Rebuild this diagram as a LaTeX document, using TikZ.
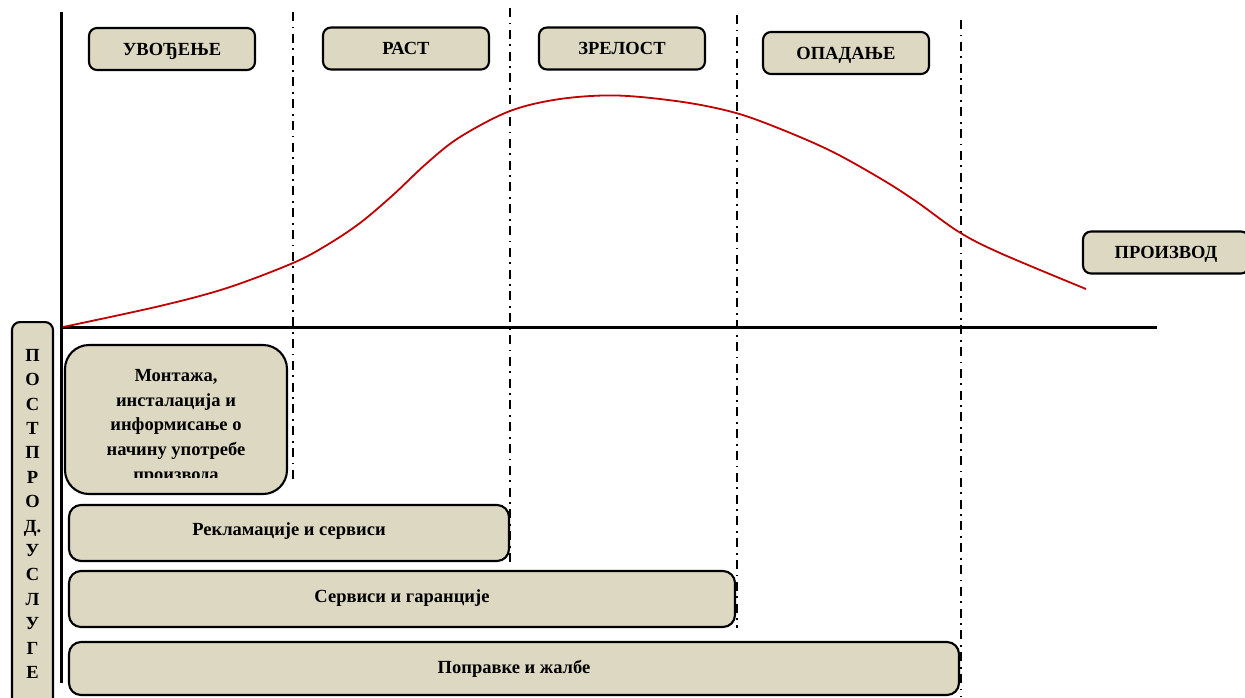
\documentclass[tikz,border=0pt]{standalone}
\usepackage{fontspec}
\setmainfont{Liberation Serif}
\definecolor{boxfill}{HTML}{DDD8C2}
\definecolor{curvered}{HTML}{C00000}
\tikzset{
  stage/.style={draw=black, line width=2.1pt, fill=boxfill, rounded corners=8pt,
    minimum height=42pt, inner sep=0pt, text height=12.2pt, text depth=0pt,
    font=\fontsize{18.5}{20}\selectfont\bfseries},
  service/.style={draw=black, line width=2.1pt, fill=boxfill, rounded corners=12pt,
    inner sep=0pt},
  phaseline/.style={line width=2pt, dash pattern=on 9pt off 5.5pt on 1.8pt off 5.5pt},
  axis/.style={line width=3pt},
  lbl/.style={inner sep=0pt, text height=12.2pt, text depth=0pt,
    font=\fontsize{18.5}{20}\selectfont\bfseries}
}
\begin{document}
\begin{tikzpicture}[x=1pt, y=-1pt]
\useasboundingbox (0,0) rectangle (1245,697);

% phase separators
\coordinate (s1t) at (292.5,12);  \coordinate (s1b) at (292.5,483);
\coordinate (s2t) at (510,8);     \coordinate (s2b) at (510,562);
\coordinate (s3t) at (737,15);    \coordinate (s3b) at (737,628);
\coordinate (s4t) at (961,20);    \coordinate (s4b) at (961,697);
\draw[phaseline] (s1t) -- (s1b);
\draw[phaseline] (s2t) -- (s2b);
\draw[phaseline] (s3t) -- (s3b);
\draw[phaseline] (s4t) -- (s4b);

% axes
\coordinate (origin) at (61,327);
\coordinate (ytop) at (61,12);
\coordinate (ybot) at (61,683);
\coordinate (xend) at (1157,327);
\draw[axis] (ytop) -- (ybot);
\draw[axis] (origin) -- (xend);

% life-cycle curve
\draw[curvered, line width=1.8pt] plot[smooth, tension=0.55] coordinates {
  (63,327) (160,306) (227,288) (293,263) (327,245) (360,223) (393,195)
  (427,163) (460,137) (510,111) (560,99) (617,95.5) (683,102) (736,113)
  (783,130) (833,152) (883,180) (917,202) (959,232) (1000,253) (1086,289)};

% stage labels
\node[stage, minimum width=166pt] (uvod) at (172,49) {УВОЂЕЊЕ};
\node[stage, minimum width=166pt] (rast) at (406,48.5) {РАСТ};
\node[stage, minimum width=166pt] (zrel) at (622,48.5) {ЗРЕЛОСТ};
\node[stage, minimum width=166pt] (opad) at (846,53) {ОПАДАЊЕ};
\node[stage, minimum width=166pt] (proiz) at (1166,252.5) {ПРОИЗВОД};

% post-production services column
\begin{scope}
  \clip (0,0) rectangle (1245,697);
  \node[service, rounded corners=8pt, minimum width=41pt, minimum height=390pt,
        anchor=north] (post) at (32.5,321) {};
\end{scope}
\begin{scope}
  \clip (12,321) rectangle (53,684);
  \node[inner sep=0pt, align=center, anchor=north,
        font=\fontsize{18.5}{24.4}\selectfont\bfseries] (posttxt) at (32.5,349)
    {П\\О\\С\\Т\\П\\Р\\О\\Д.\\У\\С\\Л\\У\\Г\\Е};
\end{scope}

% services
\node[service, rounded corners=24pt, minimum width=222pt, minimum height=149pt]
  (mont) at (176,419.5) {};
\begin{scope}
  \clip (65,345) rectangle (287,477);
  \node[inner sep=0pt, align=center, anchor=north,
        font=\fontsize{18.5}{24.8}\selectfont\bfseries] (monttxt) at (176,369)
    {Монтажа,\\инсталација и\\информисање о\\начину употребе\\производа};
\end{scope}

\node[service, minimum width=440pt, minimum height=56pt] (rekl) at (289,533) {};
\node[lbl] at (289,529.5) {Рекламације и сервиси};

\node[service, minimum width=666pt, minimum height=56pt] (serv) at (402,599) {};
\node[lbl] at (402,596) {Сервиси и гаранције};

\node[service, minimum width=890pt, minimum height=53pt] (popr) at (514,668.5) {};
\node[lbl] at (514,667) {Поправке и жалбе};
\end{tikzpicture}
\end{document}
